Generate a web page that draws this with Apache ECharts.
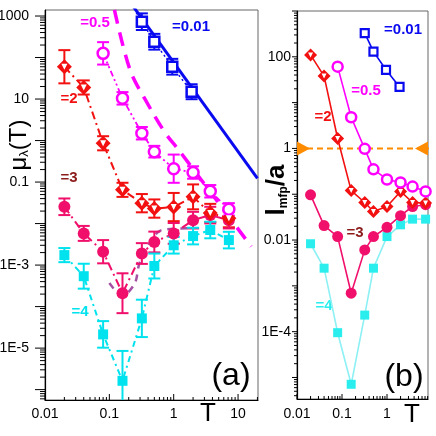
<!DOCTYPE html>
<html><head><meta charset="utf-8">
<script src="https://cdn.jsdelivr.net/npm/echarts@6/dist/echarts.min.js"></script>
<style>html,body{margin:0;padding:0;background:#fff}#c{width:436px;height:436px}</style>
</head><body><div id="c"></div>
<script>
// ---------------- data ----------------
// temperatures
const T_blue = [0.32, 0.5, 0.95, 1.9];
const T_mag  = [0.08, 0.16, 0.32, 0.5, 1, 2, 3.7, 7.2];
const T_all  = [0.02, 0.04, 0.08, 0.16, 0.32, 0.5, 1, 2, 3.7, 7.2];

// panel (a): mu_lambda(T)
const A_blue = [730, 240, 60, 15];
const A_mag  = [126, 10.4, 1.5, 0.54, 0.21, 0.17, 0.06, 0.022];
const A_red  = [60, 19, 0.86, 0.065, 0.031, 0.023, 0.025, 0.044, 0.018, 0.0135];
const A_pink = [0.0254, 0.0058, 0.0021, 0.00021, 0.0019, 0.0036, 0.0058, 0.0121, 0.016, 0.0121];
const A_cyan = [0.00174, 0.00054, 2.14e-5, 1.63e-6, 5.2e-5, 0.00095, 0.003, 0.005, 0.007, 0.004];
// error bar half widths (decades)
const E_blue = [0.2, 0.19, 0.19, 0.18];
const E_mag  = [0.27, 0.15, 0.15, 0.14, 0.34, 0.15, 0.15, 0.15];
const E_red  = [0.4, 0.17, 0.17, 0.17, 0.22, 0.22, 0.34, 0.3, 0.22, 0.22];
const E_pink = [0.2, 0.18, 0.28, 0.48, 0.25, 0.25, 0.25, 0.2, 0.2, 0.2];
const E_cyan = [0.17, 0.3, 0.32, 0.72, 0.45, 0.3, 0.2, 0.2, 0.2, 0.2];
// fit curves in panel (a)
const FIT_blue_T = [0.2, 20];
const FIT_blue_V = [2400, 0.123];
const FIT_mag_T  = [0.12, 0.21, 0.364, 0.74, 1.2, 16];
const FIT_mag_V  = [1400, 50, 9.5, 1.52, 0.59, 0.0028];
const FIT_3_T    = [0.1, 0.16, 0.25, 0.3, 0.65, 1.8];
const FIT_3_V    = [3.7e-4, 1.8e-4, 3.7e-4, 1.2e-3, 0.007, 0.0077];

// panel (b): l_mfp / a
const B_blue = [329, 130, 52, 22];
const B_mag  = [61, 4.8, 0.98, 0.35, 0.21, 0.18, 0.147, 0.115];
const B_red  = [110, 38, 1.65, 0.12, 0.066, 0.042, 0.054, 0.115, 0.066, 0.064];
const B_pink = [0.097, 0.0207, 0.0119, 0.00069, 0.0061, 0.0119, 0.019, 0.034, 0.054, 0.059];
const B_cyan = [0.0083, 0.00243, 9.5e-5, 7.1e-6, 2.3e-4, 0.00243, 0.0119, 0.0215, 0.0286, 0.0286];
const B_ref_T = [0.01, 10];
const B_ref_V = [1, 1];

// axis ranges (log10 units)
const RA = {xmin: -2, xmax: 1.31, ymin: -6.25, ymax: 3.145};
const RB = {xmin: -2, xmax: 0.911, ymin: -5.47, ymax: 3.0};

// ---------------- styling ----------------
const FONT = '"Liberation Sans", Arial, Helvetica, sans-serif';
const BLUE = '#0a0af0', MAG = '#ff00ff', RED = '#f21010', PINK = '#f0106c',
      CYAN = '#00e3ee', CYANB = '#2aeeee', CYANL = '#8cf0f4', DRED = '#8b1a1a',
      ORANGE = '#ff8c00', PURPLE = '#a552a5';

const L = v => Math.log10(v);
const pts = (Ts, Vs) => Ts.map((t, i) => [L(t), L(Vs[i])]);
const epts = (Ts, Vs, Es) => Ts.map((t, i) => [L(t), L(Vs[i]), Es[i]]);

function fmt(n) {
  if (n >= 0) return String(Math.round(Math.pow(10, n)));
  if (n >= -2) return Math.pow(10, n).toFixed(-n);
  return '1E' + n;
}

function tickData(r, yLab) {
  const d = [];
  for (let n = Math.floor(r.ymin) - 1; n <= Math.ceil(r.ymax); n++)
    for (let k = 1; k <= 9; k++) {
      const v = n + Math.log10(k);
      if (v >= r.ymin - 1e-9 && v <= r.ymax + 1e-9)
        d.push([r.xmin, v, k === 1 ? 1 : 0, (k === 1 && yLab(n)) ? 1 : 0]);
    }
  for (let n = Math.floor(r.xmin) - 1; n <= Math.ceil(r.xmax); n++)
    for (let k = 1; k <= 9; k++) {
      const v = n + Math.log10(k);
      if (v >= r.xmin - 1e-9 && v <= r.xmax + 1e-9)
        d.push([v, r.ymin, k === 1 ? 3 : 2, k === 1 ? 1 : 0]);
    }
  return d;
}

function tickRender(c) {
  return function (params, api) {
    const x = api.value(0), y = api.value(1), kind = api.value(2), lab = api.value(3);
    const p = api.coord([x, y]);
    const ch = [];
    const st = {stroke: '#000', lineWidth: 1};
    if (kind < 2) {
      const len = kind === 1 ? c.yMaj : c.yMin;
      ch.push({type: 'line', shape: {x1: p[0] - len, y1: p[1], x2: p[0], y2: p[1]}, style: st});
      if (lab) ch.push({type: 'text', style: {text: fmt(Math.round(y)), x: p[0] - c.yGap, y: p[1],
        align: 'right', verticalAlign: 'middle', textAlign: 'right', textVerticalAlign: 'middle',
        font: '14px ' + FONT, fill: '#000'}});
    } else {
      const len = kind === 3 ? c.xMaj : c.xMin;
      ch.push({type: 'line', shape: {x1: p[0], y1: p[1], x2: p[0], y2: p[1] - len}, style: st});
      if (lab) ch.push({type: 'text', style: {text: fmt(Math.round(x)), x: p[0], y: p[1] + c.xGap,
        align: 'center', verticalAlign: 'top', textAlign: 'center', textVerticalAlign: 'top',
        font: '14px ' + FONT, fill: '#000'}});
    }
    return {type: 'group', children: ch};
  };
}

function errRender(color, cap, lw) {
  return function (params, api) {
    const x = api.value(0), y = api.value(1), e = api.value(2);
    const a = api.coord([x, y - e]), b = api.coord([x, y + e]);
    const st = {stroke: color, lineWidth: lw};
    return {type: 'group', children: [
      {type: 'line', shape: {x1: a[0], y1: a[1], x2: b[0], y2: b[1]}, style: st},
      {type: 'line', shape: {x1: a[0] - cap, y1: a[1], x2: a[0] + cap, y2: a[1]}, style: st},
      {type: 'line', shape: {x1: b[0] - cap, y1: b[1], x2: b[0] + cap, y2: b[1]}, style: st}
    ]};
  };
}

function edgeTriRender(params, api) {
  const dir = api.value(2);
  const p = api.coord([api.value(0), api.value(1)]);
  return {type: 'polygon', shape: {points: [[p[0], p[1] - 7], [p[0], p[1] + 7], [p[0] + dir * 13, p[1]]]},
    style: {fill: ORANGE}};
}

function line(gi, data, color, width, type, extra) {
  return Object.assign({type: 'line', xAxisIndex: gi, yAxisIndex: gi, data, symbol: 'none',
    lineStyle: {color, width, type}, itemStyle: {color}, silent: true, animation: false, z: 2}, extra || {});
}
function scat(gi, data, symbol, size, fill, border, bw, extra) {
  return Object.assign({type: 'scatter', xAxisIndex: gi, yAxisIndex: gi, data, symbol, symbolSize: size,
    itemStyle: {color: fill, borderColor: border, borderWidth: bw, opacity: 1}, silent: true, animation: false, z: 5}, extra || {});
}
function errS(gi, data, color) {
  return {type: 'custom', xAxisIndex: gi, yAxisIndex: gi, data, renderItem: errRender(color, 6, 2),
    clip: true, silent: true, animation: false, z: 4};
}
function lineSym(gi, data, color, lineColor, symbol, size, fill, bw) {
  return {type: 'line', xAxisIndex: gi, yAxisIndex: gi, data, symbol, symbolSize: size, showSymbol: true,
    lineStyle: {color: lineColor, width: 1.6}, itemStyle: {color: fill, borderColor: color, borderWidth: bw},
    silent: true, animation: false, z: 3};
}

const axisBase = (gi, r, isX) => ({
  gridIndex: gi, type: 'value', min: isX ? r.xmin : r.ymin, max: isX ? r.xmax : r.ymax,
  axisLine: {show: true, onZero: false, lineStyle: {color: '#000', width: 1.2}},
  axisTick: {show: false}, axisLabel: {show: false}, splitLine: {show: false}
});

const chart = echarts.init(document.getElementById('c'));
chart.setOption({
  animation: false,
  backgroundColor: '#fff',
  grid: [
    {left: 45, top: 10, width: 213, height: 390, show: true, borderColor: '#666', borderWidth: 1},
    {left: 297, top: 11, width: 131, height: 388, show: true, borderColor: '#666', borderWidth: 1}
  ],
  xAxis: [axisBase(0, RA, true), axisBase(1, RB, true)],
  yAxis: [axisBase(0, RA, false), axisBase(1, RB, false)],
  series: [
    // ---- panel (a) ----
    line(0, pts(FIT_blue_T, FIT_blue_V), BLUE, 3, 'solid'),
    line(0, pts(FIT_mag_T, FIT_mag_V), MAG, 3.5, [14, 9], {smooth: 0.35}),
    line(0, pts(FIT_3_T, FIT_3_V), PURPLE, 2.5, [7, 6], {smooth: 0.3}),
    line(0, pts(T_blue, A_blue), BLUE, 1.5, [2, 3]),
    line(0, pts(T_mag, A_mag), MAG, 1.8, [6, 3, 2, 3, 2, 3]),
    line(0, pts(T_all, A_red), RED, 2, [8, 4, 2, 4]),
    line(0, pts(T_all, A_pink), PINK, 2, [8, 4, 2, 4]),
    line(0, pts(T_all, A_cyan), CYAN, 2, [6, 4, 2, 4]),
    errS(0, epts(T_blue, A_blue, E_blue), BLUE),
    errS(0, epts(T_mag, A_mag, E_mag), MAG),
    errS(0, epts(T_all, A_red, E_red), RED),
    errS(0, epts(T_all, A_pink, E_pink), PINK),
    errS(0, epts(T_all, A_cyan, E_cyan), CYAN),
    scat(0, pts(T_all, A_cyan), 'rect', 10, CYAN, CYAN, 0),
    scat(0, pts(T_all, A_pink), 'circle', 12, PINK, PINK, 0),
    scat(0, pts(T_all, A_red), 'diamond', 15, RED, RED, 0),
    scat(0, pts(T_all, A_red), 'triangle', 6, '#fff', '#fff', 0, {symbolRotate: 180, z: 6}),
    scat(0, pts(T_mag, A_mag), 'circle', 11, '#fff', MAG, 2.5),
    scat(0, pts(T_blue, A_blue), 'rect', 10, '#fff', BLUE, 2.5),
    {type: 'custom', xAxisIndex: 0, yAxisIndex: 0, data: tickData(RA, n => Math.abs(n % 2) === 1),
      renderItem: tickRender({yMaj: 10, yMin: 5, yGap: 16, xMaj: 6, xMin: 3, xGap: 7}),
      clip: false, silent: true, animation: false, z: 10},
    // ---- panel (b) ----
    line(1, pts(B_ref_T, B_ref_V), ORANGE, 2, [6, 4]),
    {type: 'custom', xAxisIndex: 1, yAxisIndex: 1, data: [[RB.xmin, 0, 1], [RB.xmax, 0, -1]],
      renderItem: edgeTriRender, clip: false, silent: true, animation: false, z: 8},
    lineSym(1, pts(T_all, B_cyan), CYANB, CYANL, 'rect', 9, CYANB, 0),
    lineSym(1, pts(T_all, B_pink), PINK, PINK, 'circle', 11, PINK, 0),
    lineSym(1, pts(T_all, B_red), RED, RED, 'diamond', 13, RED, 0),
    scat(1, pts(T_all, B_red), 'triangle', 5, '#fff', '#fff', 0, {symbolRotate: 180, z: 6}),
    lineSym(1, pts(T_mag, B_mag), MAG, MAG, 'circle', 10, '#fff', 2.5),
    lineSym(1, pts(T_blue, B_blue), BLUE, BLUE, 'rect', 8, '#fff', 2.2),
    {type: 'custom', xAxisIndex: 1, yAxisIndex: 1, data: tickData(RB, n => n % 2 === 0),
      renderItem: tickRender({yMaj: 5, yMin: 3, yGap: 6, xMaj: 5, xMin: 3, xGap: 8}),
      clip: false, silent: true, animation: false, z: 10}
  ],
  graphic: [
    {type: 'text', x: 16, y: 145, rotation: Math.PI / 2, style: {
      text: '{m|μ}{s|λ}{m|(T)}', align: 'center', verticalAlign: 'middle', fill: '#000',
      rich: {m: {font: '24px ' + FONT, lineHeight: 30, verticalAlign: 'bottom'},
             s: {font: '13px ' + FONT, verticalAlign: 'bottom', lineHeight: 30}}}},
    {type: 'text', x: 275, y: 190, rotation: Math.PI / 2, style: {
      text: '{m|l}{s|mfp}{m|/a}', align: 'center', verticalAlign: 'middle', fill: '#000',
      rich: {m: {font: 'bold 26px ' + FONT, lineHeight: 30, verticalAlign: 'bottom'},
             s: {font: 'bold 12px ' + FONT, verticalAlign: 'bottom', lineHeight: 30}}}},
    {type: 'text', x: 208, y: 414, style: {text: 'T', font: '26px ' + FONT, fill: '#000', align: 'center', verticalAlign: 'middle'}},
    {type: 'text', x: 412, y: 415, style: {text: 'T', font: '26px ' + FONT, fill: '#000', align: 'center', verticalAlign: 'middle'}},
    {type: 'text', x: 231, y: 376, style: {text: '(a)', font: '32px ' + FONT, fill: '#000', align: 'center', verticalAlign: 'middle'}},
    {type: 'text', x: 404, y: 377, style: {text: '(b)', font: '32px ' + FONT, fill: '#000', align: 'center', verticalAlign: 'middle'}},
    {type: 'text', x: 191, y: 27, style: {text: '=0.01', font: 'bold 15px ' + FONT, fill: BLUE, align: 'center', verticalAlign: 'middle'}},
    {type: 'text', x: 95, y: 23, style: {text: '=0.5', font: 'bold 15px ' + FONT, fill: MAG, align: 'center', verticalAlign: 'middle'}},
    {type: 'text', x: 69, y: 99, style: {text: '=2', font: 'bold 15px ' + FONT, fill: RED, align: 'center', verticalAlign: 'middle'}},
    {type: 'text', x: 69, y: 178, style: {text: '=3', font: 'bold 15px ' + FONT, fill: DRED, align: 'center', verticalAlign: 'middle'}},
    {type: 'text', x: 80, y: 312, style: {text: '=4', font: 'bold 15px ' + FONT, fill: CYAN, align: 'center', verticalAlign: 'middle'}},
    {type: 'text', x: 403, y: 30, style: {text: '=0.01', font: 'bold 15px ' + FONT, fill: BLUE, align: 'center', verticalAlign: 'middle'}},
    {type: 'text', x: 366, y: 91, style: {text: '=0.5', font: 'bold 15px ' + FONT, fill: MAG, align: 'center', verticalAlign: 'middle'}},
    {type: 'text', x: 323, y: 117, style: {text: '=2', font: 'bold 15px ' + FONT, fill: RED, align: 'center', verticalAlign: 'middle'}},
    {type: 'text', x: 355, y: 233, style: {text: '=3', font: 'bold 15px ' + FONT, fill: DRED, align: 'center', verticalAlign: 'middle'}},
    {type: 'text', x: 324, y: 306, style: {text: '=4', font: 'bold 15px ' + FONT, fill: CYANB, align: 'center', verticalAlign: 'middle'}}
  ]
});
</script></body></html>
